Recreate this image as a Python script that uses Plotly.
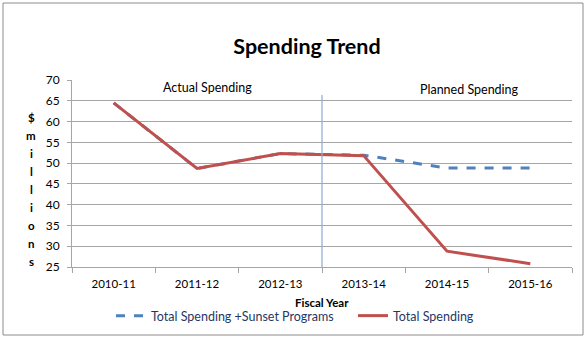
import plotly.graph_objects as go

years = ["2010-11", "2011-12", "2012-13", "2013-14", "2014-15", "2015-16"]
total_sunset = [64.5, 48.7, 52.3, 51.9, 48.8, 48.8]
total_spending = [64.5, 48.7, 52.3, 51.8, 28.8, 25.8]
y_title_letters = ["$", "m", "i", "l", "l", "i", "o", "n", "s"]

FONT = "Lato, 'Open Sans', sans-serif"
GRID = "#A6A6A6"

fig = go.Figure()
fig.add_trace(go.Scatter(
    x=years, y=total_sunset, mode="lines", name="Total Spending +Sunset Programs",
    line=dict(color="#4F81BD", width=3, dash="dash"),
))
fig.add_trace(go.Scatter(
    x=years, y=total_spending, mode="lines", name="Total Spending",
    line=dict(color="#C0504D", width=3),
))

L, R, T, B = 72, 14, 80, 72
W, H = 586, 339
pw, ph = W - L - R, H - T - B

def px(xp):
    return (xp - L) / pw

def py(yp):
    return (H - B - yp) / ph

# Divider between actual and planned
fig.add_shape(type="line", xref="x", yref="y", x0=2.5, x1=2.5, y0=25, y1=66.4,
              line=dict(color="#8EA9D0", width=1.2))
# outer chart border
fig.add_shape(type="rect", xref="paper", yref="paper",
              x0=px(3), x1=px(583), y0=py(335), y1=py(3),
              line=dict(color="#8C8C8C", width=1))

def ann(text, x, y, size=12):
    return dict(text=text, x=px(x), y=py(y), xref="paper", yref="paper",
                xanchor="center", yanchor="middle", showarrow=False,
                font=dict(family=FONT, size=size, color="black"))

annotations = [
    ann("Actual Spending", 207, 88, 12.5),
    ann("Planned Spending", 469, 89, 12.5),
    ann("<b>Fiscal Year</b>", 322, 302, 11.5),
]
for i, ch in enumerate(y_title_letters):
    annotations.append(ann("<b>%s</b>" % ch, 31, 117 + i * 18.1, 11.5))

fig.update_layout(
    width=W, height=H,
    margin=dict(l=L, r=R, t=T, b=B, autoexpand=False),
    paper_bgcolor="white", plot_bgcolor="white",
    title=dict(text="<b>Spending Trend</b>", x=px(307), xref="paper", xanchor="center",
               y=1 - 46 / H, yanchor="middle",
               font=dict(family=FONT, size=21.5, color="black")),
    font=dict(family=FONT, size=11, color="black"),
    showlegend=True,
    legend=dict(orientation="h", x=px(111), xanchor="left", y=py(316), yanchor="middle",
                font=dict(family=FONT, size=12.5, color="#1F3864"),
                bgcolor="rgba(0,0,0,0)", itemwidth=30, entrywidth=197),
    annotations=annotations,
    xaxis=dict(type="category", tickson="boundaries", ticks="outside", ticklen=5,
               tickcolor=GRID, showgrid=False, showline=True, linecolor=GRID, linewidth=1,
               range=[-0.5, 5.5], ticklabelstandoff=6, automargin=False,
               tickfont=dict(family=FONT, size=11.5, color="black")),
    yaxis=dict(range=[25, 70], dtick=5, tick0=25, ticks="outside", ticklen=4,
               tickcolor=GRID, showgrid=True, gridcolor=GRID, gridwidth=1,
               showline=True, linecolor=GRID, zeroline=False, ticklabelstandoff=5,
               automargin=False,
               tickfont=dict(family=FONT, size=12, color="black")),
)

fig.write_html("out.html")
